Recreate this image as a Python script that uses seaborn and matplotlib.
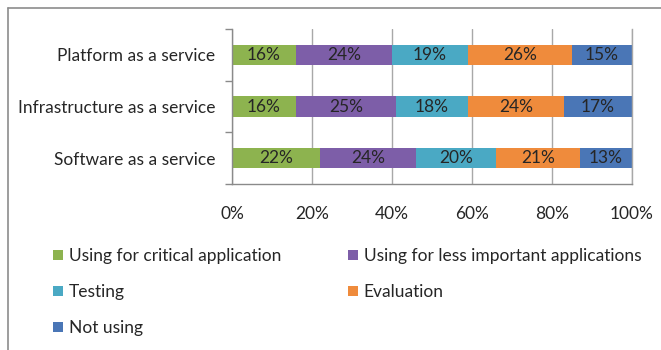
import matplotlib
matplotlib.use("Agg")
import matplotlib.pyplot as plt
import seaborn as sns
import pandas as pd
import numpy as np
from matplotlib.patches import Patch
from matplotlib.lines import Line2D

categories = ["Platform as a service", "Infrastructure as a service", "Software as a service"]
series_names = ["Using for critical application", "Using for less important applications",
                "Testing", "Evaluation", "Not using"]
critical = [16, 16, 22]
less_important = [24, 25, 24]
testing = [19, 18, 20]
evaluation = [26, 24, 21]
not_using = [15, 17, 13]
x_ticks = [0, 20, 40, 60, 80, 100]
x_tick_labels = ["0%", "20%", "40%", "60%", "80%", "100%"]

colors = ["#8db34f", "#7d5ea8", "#4aa9c4", "#ef8b3c", "#4a76b6"]
text_color = "#262626"
axis_gray = "#8a8a8a"
FS = 12.5

sns.set_theme(style="white")
plt.rcParams["font.family"] = ["Lato", "DejaVu Sans"]

W, H = 661, 350
fig = plt.figure(figsize=(W / 100, H / 100), dpi=100)
fig.patch.set_facecolor("white")
ax = fig.add_axes([232 / W, 1 - 184 / H, 400 / W, 155 / H])

series = [critical, less_important, testing, evaluation, not_using]
cums = []
run = np.zeros(len(categories))
for vals in series:
    run = run + np.array(vals, dtype=float)
    cums.append(run.copy())

# draw stacked bars from the longest cumulative to the shortest
for i in range(len(series) - 1, -1, -1):
    d = pd.DataFrame({"category": categories, "value": cums[i]})
    sns.barplot(data=d, x="value", y="category", order=categories, color=colors[i],
                saturation=1, width=0.39, edgecolor="none", linewidth=0, ax=ax,
                errorbar=None)

# value labels
for i, vals in enumerate(series):
    for j, v in enumerate(vals):
        ax.text(cums[i][j] - v / 2, j, f"{v}%", ha="center", va="center",
                fontsize=FS, color=text_color)

ax.set_xlim(0, 100)
ax.set_ylim(2.5, -0.5)
ax.set_xticks(x_ticks)
ax.set_xticklabels(x_tick_labels)
ax.set_xlabel("")
ax.set_ylabel("")
ax.set_axisbelow(True)
ax.grid(axis="x", color="#a8a8a8", linewidth=1)
ax.grid(axis="y", visible=False)

ax.spines["top"].set_visible(False)
ax.spines["right"].set_color("#a8a8a8")
ax.spines["left"].set_color(axis_gray)
ax.spines["bottom"].set_color(axis_gray)
for s in ["left", "bottom", "right"]:
    ax.spines[s].set_linewidth(1)

ax.tick_params(axis="x", which="major", direction="inout", length=10, width=1,
               color=axis_gray, pad=10.5, labelsize=FS, labelcolor=text_color)
ax.tick_params(axis="y", which="major", length=0, pad=12, labelsize=FS,
               labelcolor=text_color)
ax.set_yticks([-0.5, 0.5, 1.5, 2.5], minor=True)
ax.tick_params(axis="y", which="minor", direction="out", length=5, width=1,
               color=axis_gray, left=True)

# outer frame (top and left edges)
fig.add_artist(Line2D([8 / W, 8 / W], [0, 1 - 8 / H], transform=fig.transFigure,
                      color="#8c8c8c", linewidth=1.2))
fig.add_artist(Line2D([8 / W, 1], [1 - 8 / H, 1 - 8 / H], transform=fig.transFigure,
                      color="#8c8c8c", linewidth=1.2))

# legend (row-wise order, two columns)
def make_leg(idx, x_px):
    handles = [Patch(facecolor=colors[k], edgecolor="none") for k in idx]
    labels = [series_names[k] for k in idx]
    fig.legend(handles=handles, labels=labels, loc="upper left",
               bbox_to_anchor=(x_px / W, 1 - 248 / H), bbox_transform=fig.transFigure,
               frameon=False, fontsize=FS, handlelength=0.55, handleheight=0.55,
               handletextpad=0.35, labelspacing=1.15, borderpad=0, borderaxespad=0,
               labelcolor=text_color)

make_leg([0, 2, 4], 53)
make_leg([1, 3], 348)

fig.savefig("out.png", dpi=100, facecolor="white")
